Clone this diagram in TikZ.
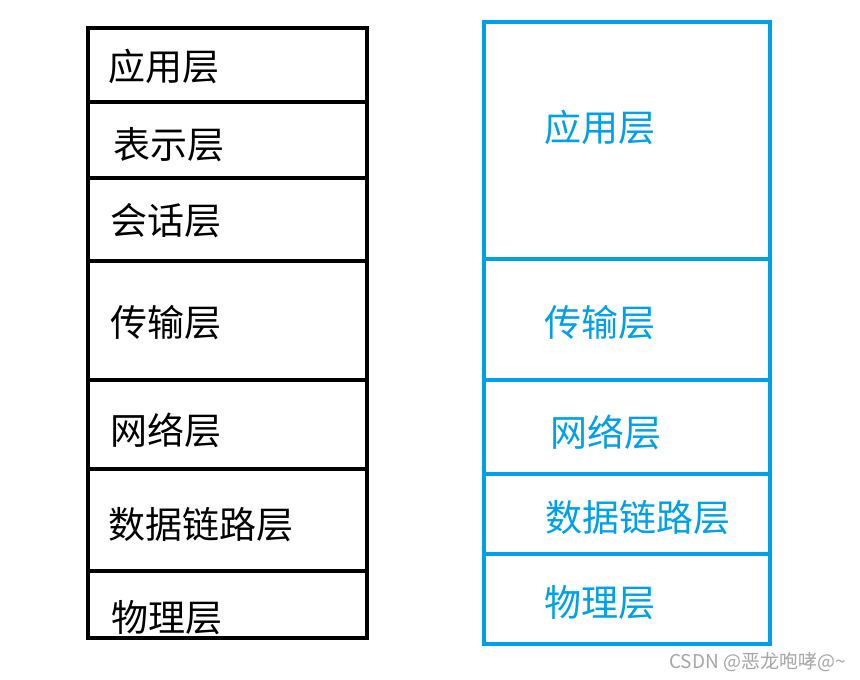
\documentclass[tikz,border=0pt]{standalone}
\usepackage{fontspec}
\setmainfont{Noto Sans CJK SC}
\definecolor{cy}{HTML}{00A0E9}
\begin{document}
\begin{tikzpicture}[x=1pt,y=-1pt,
  lay/.style={draw=black,line width=4pt},
  lab/.style={anchor=west,font=\fontsize{37}{37}\selectfont,inner sep=0},
  layb/.style={draw=cy,line width=4pt},
  labb/.style={anchor=west,font=\fontsize{37}{37}\selectfont,inner sep=0,text=cy}]
\useasboundingbox[fill=white] (0,0) rectangle (860,680);
% left
\draw[lay] (88,28) rectangle (367,102);
\draw[lay] (88,102) rectangle (367,178);
\draw[lay] (88,178) rectangle (367,261);
\draw[lay] (88,261) rectangle (367,380);
\draw[lay] (88,380) rectangle (367,469);
\draw[lay] (88,469) rectangle (367,571);
\draw[lay] (88,571) rectangle (367,638);
\node[lab] (l1) at (108,66) {应用层};
\node[lab] (l2) at (113,145) {表示层};
\node[lab] (l3) at (110,221) {会话层};
\node[lab] (l4) at (110,323) {传输层};
\node[lab] (l5) at (110,430) {网络层};
\node[lab] (l6) at (108,525) {数据链路层};
\node[lab] (l7) at (111,618) {物理层};
% right
\draw[layb] (484,22) rectangle (770,259);
\draw[layb] (484,259) rectangle (770,380);
\draw[layb] (484,380) rectangle (770,474);
\draw[layb] (484,474) rectangle (770,554);
\draw[layb] (484,554) rectangle (770,644);
\node[labb] (r1) at (544,127) {应用层};
\node[labb] (r2) at (544,323) {传输层};
\node[labb] (r3) at (550,432) {网络层};
\node[labb] (r4) at (545,518) {数据链路层};
\node[labb] (r5) at (544,603) {物理层};
\node[anchor=east,text=gray!70,font=\fontsize{19}{19}\selectfont,inner sep=0] (wm) at (846,662) {CSDN @恶龙咆哮@\textasciitilde};
\end{tikzpicture}
\end{document}
